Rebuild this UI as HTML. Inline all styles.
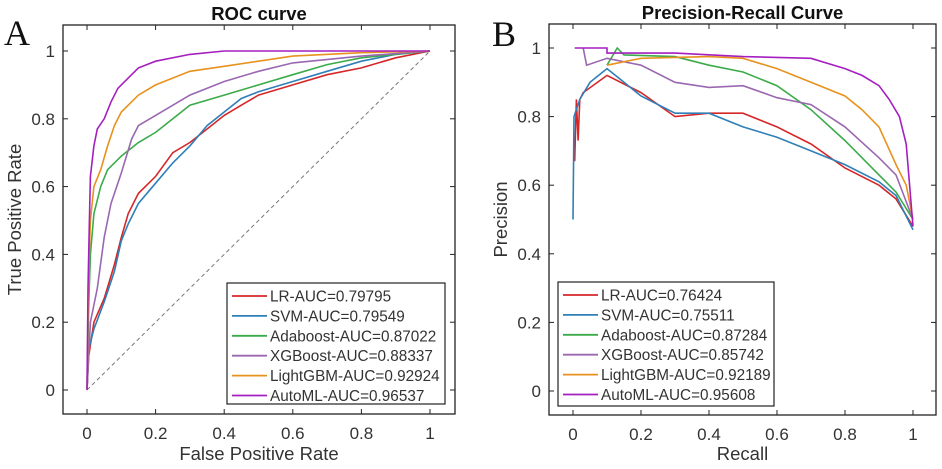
<!DOCTYPE html>
<html><head><meta charset="utf-8"><style>
html,body{margin:0;padding:0;background:#fff;width:942px;height:469px;overflow:hidden}
svg{display:block;font-family:"Liberation Sans",sans-serif}
</style></head><body>
<svg id="fig" width="942" height="469" viewBox="0 0 942 469" xmlns="http://www.w3.org/2000/svg"></svg>
<script>
const seriesNames=["LR","SVM","Adaboost","XGBoost","LightGBM","AutoML"];
const colors=["#d62728","#2f7fb8","#3bab4a","#9a68b0","#e8921e","#a51fbf"];
const rocAuc=["0.79795","0.79549","0.87022","0.88337","0.92924","0.96537"];
const prAuc=["0.76424","0.75511","0.87284","0.85742","0.92189","0.95608"];
const ticks=[0,0.2,0.4,0.6,0.8,1];
const tickLabels=["0","0.2","0.4","0.6","0.8","1"];
const rocLR=[[0,0],[0.005,0.1],[0.02,0.2],[0.05,0.27],[0.08,0.37],[0.1,0.45],[0.12,0.52],[0.15,0.58],[0.2,0.63],[0.25,0.7],[0.3,0.73],[0.35,0.77],[0.4,0.81],[0.45,0.84],[0.5,0.87],[0.6,0.9],[0.7,0.93],[0.8,0.95],[0.9,0.98],[1,1]];
const rocSVM=[[0,0],[0.005,0.12],[0.02,0.18],[0.05,0.26],[0.08,0.35],[0.1,0.44],[0.12,0.49],[0.15,0.55],[0.2,0.61],[0.25,0.67],[0.3,0.72],[0.35,0.78],[0.4,0.82],[0.45,0.86],[0.5,0.88],[0.6,0.91],[0.7,0.94],[0.8,0.97],[0.9,0.99],[1,1]];
const rocAda=[[0,0],[0.005,0.25],[0.01,0.4],[0.02,0.52],[0.04,0.6],[0.06,0.65],[0.1,0.69],[0.15,0.73],[0.2,0.76],[0.25,0.8],[0.3,0.84],[0.4,0.87],[0.5,0.9],[0.6,0.93],[0.7,0.96],[0.8,0.98],[1,1]];
const rocXGB=[[0,0],[0.01,0.2],[0.03,0.3],[0.05,0.45],[0.07,0.55],[0.1,0.64],[0.13,0.74],[0.15,0.78],[0.2,0.81],[0.3,0.87],[0.4,0.91],[0.5,0.94],[0.6,0.965],[0.8,0.985],[1,1]];
const rocLGB=[[0,0],[0.005,0.35],[0.01,0.5],[0.02,0.6],[0.04,0.65],[0.06,0.72],[0.08,0.78],[0.1,0.82],[0.15,0.87],[0.2,0.9],[0.3,0.94],[0.4,0.955],[0.5,0.97],[0.6,0.985],[0.8,0.995],[1,1]];
const rocAuto=[[0,0],[0.003,0.3],[0.007,0.5],[0.01,0.63],[0.02,0.72],[0.03,0.77],[0.05,0.8],[0.07,0.85],[0.09,0.89],[0.12,0.92],[0.15,0.95],[0.2,0.97],[0.3,0.99],[0.4,1],[1,1]];
const prLR=[[0.005,0.67],[0.01,0.85],[0.015,0.73],[0.02,0.85],[0.03,0.87],[0.1,0.92],[0.2,0.87],[0.3,0.8],[0.4,0.81],[0.5,0.81],[0.6,0.77],[0.7,0.72],[0.8,0.65],[0.9,0.6],[0.95,0.56],[1,0.48]];
const prSVM=[[0,0.5],[0.003,0.8],[0.02,0.85],[0.05,0.9],[0.1,0.94],[0.15,0.9],[0.2,0.86],[0.3,0.81],[0.4,0.81],[0.5,0.77],[0.6,0.74],[0.7,0.7],[0.8,0.66],[0.9,0.61],[0.95,0.57],[1,0.47]];
const prAda=[[0.1,0.95],[0.13,1],[0.15,0.98],[0.3,0.975],[0.4,0.95],[0.5,0.93],[0.6,0.89],[0.7,0.82],[0.8,0.73],[0.9,0.63],[0.95,0.58],[1,0.5]];
const prXGB=[[0.03,1],[0.04,0.95],[0.1,0.97],[0.2,0.95],[0.3,0.9],[0.4,0.885],[0.5,0.89],[0.6,0.855],[0.7,0.835],[0.8,0.77],[0.9,0.68],[0.95,0.63],[1,0.5]];
const prLGB=[[0.1,0.95],[0.2,0.97],[0.4,0.975],[0.5,0.97],[0.6,0.94],[0.7,0.9],[0.8,0.86],[0.85,0.82],[0.9,0.77],[0.95,0.66],[0.98,0.6],[1,0.5]];
const prAuto=[[0.005,1],[0.1,1],[0.1,0.985],[0.3,0.985],[0.5,0.975],[0.7,0.97],[0.8,0.94],[0.85,0.92],[0.9,0.89],[0.93,0.85],[0.96,0.8],[0.98,0.72],[0.99,0.6],[1,0.48]];

const NS="http://www.w3.org/2000/svg";
const svg=document.getElementById('fig');
function mk(tag,attrs,parent,text){const e=document.createElementNS(NS,tag);for(const k in attrs)e.setAttribute(k,attrs[k]);if(text!==undefined)e.textContent=text;(parent||svg).appendChild(e);return e;}

function panel(cfg){
  const g=mk('g',{});
  
  
  const sx=v=>cfg.x0+(cfg.x1-cfg.x0)*v;
  const sy=v=>cfg.y0+(cfg.y1-cfg.y0)*v;
  const f=cfg.frame;
  const fr=mk('rect',{x:f[0],y:f[1],width:f[2]-f[0],height:f[3]-f[1],fill:'#fff',stroke:'#222','stroke-width':1.3},g);
  
  
  ticks.forEach((t,i)=>{
    const X=sx(t),Y=sy(t);
    mk('line',{x1:X,y1:f[3],x2:X,y2:f[3]-5,stroke:'#222'},g);
    mk('line',{x1:X,y1:f[1],x2:X,y2:f[1]+5,stroke:'#222'},g);
    mk('line',{x1:f[0],y1:Y,x2:f[0]+5,y2:Y,stroke:'#222'},g);
    mk('line',{x1:f[2],y1:Y,x2:f[2]-5,y2:Y,stroke:'#222'},g);
    const xl=mk('text',{x:X,y:f[3]+25,'text-anchor':'middle','font-size':17,fill:'#333'},g,tickLabels[i]);
    
    
    const yl=mk('text',{x:f[0]-8,y:Y+6,'text-anchor':'end','font-size':17,fill:'#333'},g,tickLabels[i]);
    
    
  });
  if(cfg.diag){
    const d=mk('line',{x1:sx(0),y1:sy(0),x2:sx(1),y2:sy(1),stroke:'#777','stroke-dasharray':'4,3','stroke-width':1},g);
    
    
  }
  cfg.series.forEach((s,i)=>{
    const p=mk('polyline',{points:s.map(q=>sx(q[0]).toFixed(1)+','+sy(q[1]).toFixed(1)).join(' '),fill:'none',stroke:colors[i],'stroke-width':1.6},g);
    
    
  });
  const t=mk('text',{x:(f[0]+f[2])/2,y:f[1]-5,'text-anchor':'middle','font-size':18.5,'font-weight':'bold',fill:'#111'},g,cfg.title);
  
  
  const xt=mk('text',{x:(f[0]+f[2])/2,y:460,'text-anchor':'middle','font-size':18.5,fill:'#333'},g,cfg.xlabel);
  
  
  const ycx=f[0]-42, ycy=(f[1]+f[3])/2;
  const yt=mk('text',{x:ycx,y:ycy,'text-anchor':'middle','font-size':18.5,fill:'#333',transform:`rotate(-90 ${ycx} ${ycy})`},g,cfg.ylabel);
  
  
  const L=cfg.legend;
  const lg=mk('g',{},g);
  
  
  mk('rect',{x:L[0],y:L[1],width:L[2]-L[0],height:L[3]-L[1],fill:'#fff',stroke:'#222','stroke-width':1.2},lg);
  seriesNames.forEach((n,i)=>{
    const yy=L[1]+13+i*19.9;
    const e=mk('g',{},lg);
    
    
    mk('line',{x1:L[0]+5,y1:yy,x2:L[0]+40,y2:yy,stroke:colors[i],'stroke-width':1.8},e);
    mk('text',{x:L[0]+43,y:yy+5.5,'font-size':15.3,fill:'#333'},e,n+'-AUC='+cfg.auc[i]);
  });
  const lt=mk('text',{x:cfg.letter[0],y:cfg.letter[1],'font-family':'Liberation Serif, serif','font-size':36,fill:'#111'},g,cfg.letterText);
  
  
}
panel({id:'roc',frame:[63,25,455,414],x0:87,x1:430,y0:390,y1:51,diag:true,
  series:[rocLR,rocSVM,rocAda,rocXGB,rocLGB,rocAuto],title:'ROC curve',xlabel:'False Positive Rate',ylabel:'True Positive Rate',
  legend:[227,283,445,404],auc:rocAuc,letter:[4,45],letterText:'A'});
panel({id:'pr',frame:[549,24,936,415],x0:573,x1:913,y0:391,y1:48,diag:false,
  series:[prLR,prSVM,prAda,prXGB,prLGB,prAuto],title:'Precision-Recall Curve',xlabel:'Recall',ylabel:'Precision',
  legend:[558,282,774,406],auc:prAuc,letter:[492,46],letterText:'B'});
</script>
</body></html>
